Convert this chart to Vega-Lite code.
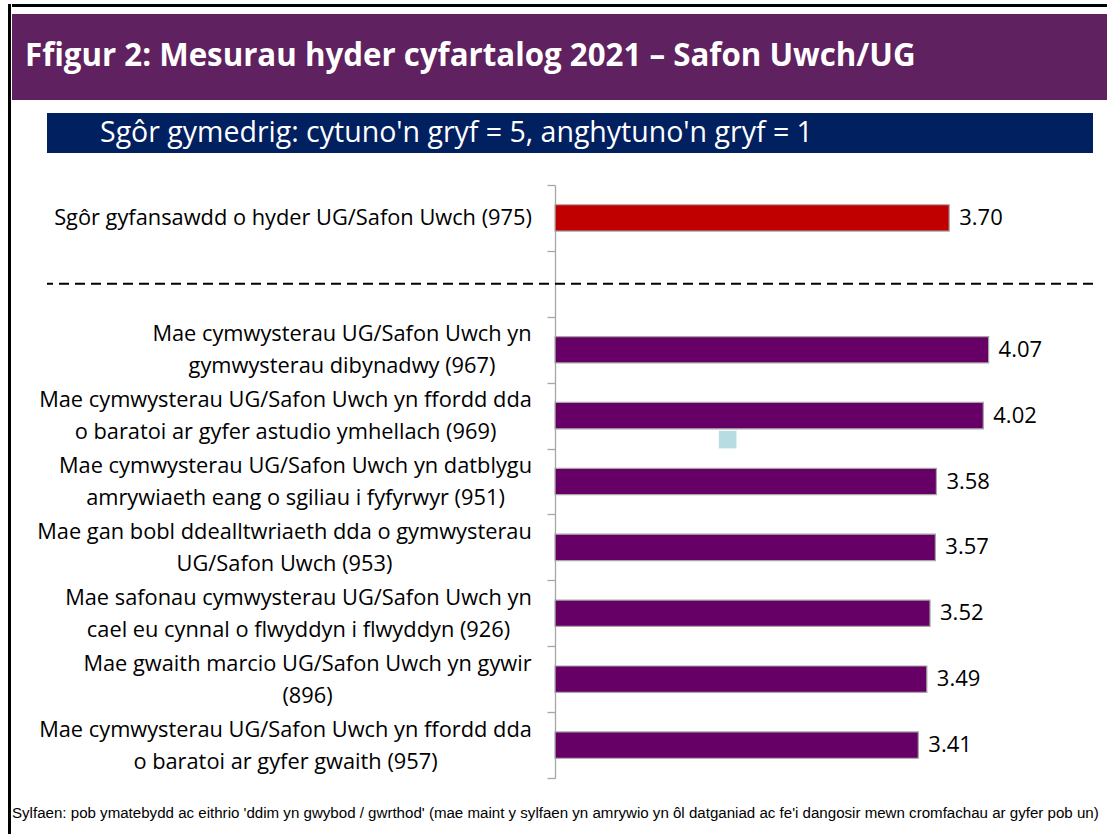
{
  "$schema": "https://vega.github.io/schema/vega-lite/v6.json",
  "padding": {"left": 8, "top": 4, "right": 0, "bottom": 0},
  "background": "white",
  "config": {"view": {"stroke": null}, "font": "Open Sans"},
  "bounds": "flush",
  "spacing": 1,
  "hconcat": [
    {"width": 3, "height": 830, "view": {"fill": "#000000", "stroke": null}, "data": {"values": []}, "mark": "point"},
    {
      "bounds": "flush",
      "spacing": 7,
      "vconcat": [
        {"width": 1096, "height": 3, "view": {"fill": "#000000", "stroke": null}, "data": {"values": []}, "mark": "point"},
        {
          "title": {
            "text": "Sylfaen: pob ymatebydd ac eithrio 'ddim yn gwybod / gwrthod' (mae maint y sylfaen yn amrywio yn ôl datganiad ac fe'i dangosir mewn cromfachau ar gyfer pob un)",
            "orient": "bottom", "anchor": "start", "font": "Liberation Sans", "fontSize": 15.1,
            "fontWeight": "normal", "color": "#000000", "offset": 27, "dx": 0
          },
          "bounds": "flush",
          "spacing": 13,
          "vconcat": [
            {
              "width": 1095, "height": 86,
              "view": {"fill": "#5f2160", "stroke": null},
              "data": {"values": [{"t": "Ffigur 2: Mesurau hyder cyfartalog 2021 – Safon Uwch/UG"}]},
              "mark": {"type": "text", "align": "left", "baseline": "middle", "dx": 13, "fontSize": 31.25, "fontWeight": "bold", "color": "#ffffff", "font": "Open Sans"},
              "encoding": {
                "text": {"field": "t"},
                "x": {"datum": 0, "type": "quantitative", "scale": {"domain": [0, 1]}, "axis": null}
              }
            },
            {
              "bounds": "flush",
              "spacing": 0,
              "hconcat": [
                {"width": 35, "height": 10, "data": {"values": []}, "mark": "point"},
                {
                  "bounds": "flush",
                  "spacing": 32,
                  "vconcat": [
                    {
                      "width": 1046, "height": 40,
                      "view": {"fill": "#002060", "stroke": null},
                      "data": {"values": [{"t": "Sgôr gymedrig: cytuno'n gryf = 5, anghytuno'n gryf = 1"}]},
                      "mark": {"type": "text", "align": "left", "baseline": "middle", "dx": 53, "fontSize": 28.5, "fontWeight": "normal", "color": "#ffffff", "font": "Open Sans"},
                      "encoding": {
                        "text": {"field": "t"},
                        "x": {"datum": 0, "type": "quantitative", "scale": {"domain": [0, 1]}, "axis": null}
                      }
                    },
                    {
                      "width": 1046, "height": 593,
                      "data": {"values": [
                        {"item": "Sgôr gyfansawdd o hyder UG/Safon Uwch (975)", "score": 3.70, "kind": "overall"},
                        {"item": "Mae cymwysterau UG/Safon Uwch yn|gymwysterau dibynadwy (967)", "score": 4.07, "kind": "statement"},
                        {"item": "Mae cymwysterau UG/Safon Uwch yn ffordd dda|o baratoi ar gyfer astudio ymhellach (969)", "score": 4.02, "kind": "statement"},
                        {"item": "Mae cymwysterau UG/Safon Uwch yn datblygu|amrywiaeth eang o sgiliau i fyfyrwyr (951)", "score": 3.58, "kind": "statement"},
                        {"item": "Mae gan bobl ddealltwriaeth dda o gymwysterau|UG/Safon Uwch (953)", "score": 3.57, "kind": "statement"},
                        {"item": "Mae safonau cymwysterau UG/Safon Uwch yn|cael eu cynnal o flwyddyn i flwyddyn (926)", "score": 3.52, "kind": "statement"},
                        {"item": "Mae gwaith marcio UG/Safon Uwch yn gywir|(896)", "score": 3.49, "kind": "statement"},
                        {"item": "Mae cymwysterau UG/Safon Uwch yn ffordd dda|o baratoi ar gyfer gwaith (957)", "score": 3.41, "kind": "statement"}
                      ]},
                      "encoding": {
                        "y": {
                          "field": "item", "type": "nominal", "sort": null,
                          "scale": {
                            "domain": [
                              "Sgôr gyfansawdd o hyder UG/Safon Uwch (975)",
                              " ",
                              "Mae cymwysterau UG/Safon Uwch yn|gymwysterau dibynadwy (967)",
                              "Mae cymwysterau UG/Safon Uwch yn ffordd dda|o baratoi ar gyfer astudio ymhellach (969)",
                              "Mae cymwysterau UG/Safon Uwch yn datblygu|amrywiaeth eang o sgiliau i fyfyrwyr (951)",
                              "Mae gan bobl ddealltwriaeth dda o gymwysterau|UG/Safon Uwch (953)",
                              "Mae safonau cymwysterau UG/Safon Uwch yn|cael eu cynnal o flwyddyn i flwyddyn (926)",
                              "Mae gwaith marcio UG/Safon Uwch yn gywir|(896)",
                              "Mae cymwysterau UG/Safon Uwch yn ffordd dda|o baratoi ar gyfer gwaith (957)"
                            ],
                            "paddingInner": 0, "paddingOuter": 0
                          },
                          "axis": {
                            "title": null, "offset": -508, "tickBand": "extent", "grid": false,
                            "domainColor": "#a6a6a6", "tickColor": "#a6a6a6", "tickSize": 8,
                            "domainWidth": 1.3, "tickWidth": 1.3,
                            "labelFont": "Open Sans", "labelFontSize": 21.8, "labelColor": "#000000",
                            "labelAlign": "center",
                            "labelPadding": {
                              "condition": [
                                {"test": "indexof(datum.label, '(975)') >= 0", "value": 254.5},
                                {"test": "indexof(datum.label, '(967)') >= 0", "value": 205.5},
                                {"test": "indexof(datum.label, '(969)') >= 0", "value": 262},
                                {"test": "indexof(datum.label, '(951)') >= 0", "value": 252},
                                {"test": "indexof(datum.label, '(953)') >= 0", "value": 263},
                                {"test": "indexof(datum.label, '(926)') >= 0", "value": 249},
                                {"test": "indexof(datum.label, '(896)') >= 0", "value": 240}
                              ],
                              "value": 262
                            },
                            "labelLimit": 700, "labelLineHeight": 32,
                            "labelOffset": {"condition": {"test": "indexof(datum.label, '|') >= 0", "value": -16}, "value": 0},
                            "labelExpr": "split(datum.label, '|')"
                          }
                        }
                      },
                      "layer": [
                        {
                          "mark": {"type": "bar", "height": {"band": 0.4}, "stroke": "#a6a6a6", "strokeWidth": 1.2},
                          "encoding": {
                            "x": {"field": "score", "type": "quantitative", "scale": {"domain": [-4.77, 5.05], "nice": false, "zero": false}, "axis": null},
                            "color": {"field": "kind", "type": "nominal", "scale": {"domain": ["overall", "statement"], "range": ["#c00000", "#660066"]}, "legend": null}
                          }
                        },
                        {
                          "mark": {"type": "text", "align": "left", "baseline": "middle", "dx": 10, "fontSize": 22, "color": "#000000", "font": "Open Sans"},
                          "encoding": {
                            "x": {"field": "score", "type": "quantitative"},
                            "text": {"field": "score", "type": "quantitative", "format": ".2f"}
                          }
                        },
                        {
                          "data": {"values": [{"item": " "}]},
                          "mark": {"type": "rule", "strokeDash": [10, 6], "strokeWidth": 2, "color": "#000000"},
                          "encoding": {}
                        },
                        {
                          "data": {"values": [{"item": "Mae cymwysterau UG/Safon Uwch yn ffordd dda|o baratoi ar gyfer astudio ymhellach (969)", "score": 1.62}]},
                          "mark": {"type": "point", "shape": "square", "filled": true, "size": 310, "color": "#b7dde3", "opacity": 1, "yOffset": 24},
                          "encoding": {"x": {"field": "score", "type": "quantitative"}}
                        }
                      ]
                    }
                  ]
                }
              ]
            }
          ]
        }
      ]
    }
  ]
}
